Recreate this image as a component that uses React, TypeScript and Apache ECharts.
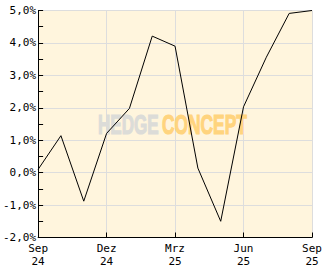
import React, { useEffect, useRef } from "react";
import * as echarts from "echarts";

const months = ["Sep\n24", "Okt\n24", "Nov\n24", "Dez\n24", "Jan\n25", "Feb\n25", "Mrz\n25", "Apr\n25", "Mai\n25", "Jun\n25", "Jul\n25", "Aug\n25", "Sep\n25"];
const values = [0.1, 1.14, -0.88, 1.21, 1.98, 4.21, 3.9, 0.14, -1.5, 2.03, 3.56, 4.91, 5.0];
const yMin = -2;
const yMax = 5;

export default function App() {
  const ref = useRef<HTMLDivElement>(null);
  useEffect(() => {
    if (!ref.current) return;
    const chart = echarts.init(ref.current, undefined, { renderer: "svg" });
    const font = "DejaVu Sans Mono";
    const wmFont = "bold 28px 'Liberation Sans', Arial, sans-serif";
    chart.setOption({
      animation: false,
      backgroundColor: "#ffffff",
      grid: {
        left: 36,
        right: 20,
        top: 10.5,
        bottom: 31.5,
        show: true,
        backgroundColor: "#FFF5DD",
        borderWidth: 0,
        z: 0,
      },
      graphic: [
        {
          type: "text",
          x: 98,
          y: 110,
          scaleX: 0.61,
          z: 1,
          style: {
            text: "HEDGE",
            fill: "#dcdcd8",
            stroke: "#dcdcd8",
            lineWidth: 1.2,
            font: wmFont,
            textVerticalAlign: "top",
          },
        },
        {
          type: "text",
          x: 162,
          y: 110,
          scaleX: 0.62,
          z: 1,
          style: {
            text: "CONCEPT",
            fill: "#FFD47E",
            stroke: "#FFD47E",
            lineWidth: 1.2,
            font: wmFont,
            textVerticalAlign: "top",
          },
        },
      ],
      xAxis: {
        type: "category",
        data: months,
        boundaryGap: false,
        axisLine: { show: true, onZero: false, lineStyle: { color: "#000", width: 1 } },
        axisTick: { show: true, inside: true, interval: 2, length: 5, lineStyle: { color: "#000" } },
        axisLabel: {
          interval: 2,
          color: "#000",
          fontFamily: font,
          fontSize: 11,
          lineHeight: 13,
          margin: 4,
        },
        splitLine: { show: true, interval: 2, lineStyle: { color: "#dddddd", width: 1 } },
      },
      yAxis: {
        type: "value",
        min: yMin,
        max: yMax,
        interval: 1,
        axisLine: { show: true, lineStyle: { color: "#000", width: 1 } },
        axisTick: { show: true, inside: true, length: 5, lineStyle: { color: "#000" } },
        minorTick: { show: true, splitNumber: 2, length: 5, lineStyle: { color: "#000" } },
        axisLabel: {
          color: "#000",
          fontFamily: font,
          fontSize: 11,
          margin: 2,
          formatter: (v: number) => (v < 0 ? "-" : "") + Math.abs(v).toFixed(1).replace(".", ",") + "%",
        },
        splitLine: { show: true, lineStyle: { color: "#dddddd", width: 1 } },
      },
      series: [
        {
          type: "line",
          data: values,
          showSymbol: false,
          symbol: "none",
          z: 3,
          lineStyle: { color: "#000", width: 1 },
        },
      ],
    });
    return () => chart.dispose();
  }, []);
  return <div ref={ref} style={{ position: "fixed", left: 0, top: 0, width: 332, height: 269 }} />;
}
